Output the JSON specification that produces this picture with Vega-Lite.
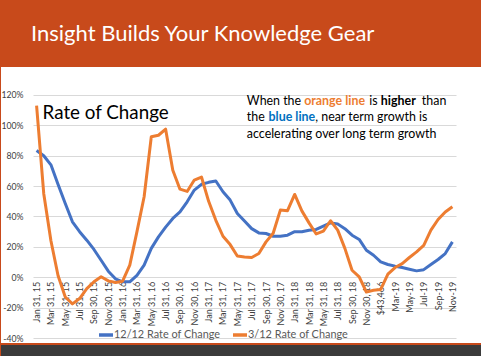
{
  "$schema": "https://vega.github.io/schema/vega-lite/v6.json",
  "background": "#c84a1b",
  "padding": {"left": 0, "right": 0, "top": 22, "bottom": 0},
  "spacing": 2,
  "title": {"text": "Insight Builds Your Knowledge Gear", "anchor": "start", "frame": "group", "dx": 30, "color": "white", "font": "Lato", "fontSize": 22, "fontWeight": "normal", "offset": 21.5},
  "config": {"view": {"stroke": null}},
  "vconcat": [
    {
      "width": 481,
      "height": 276,
      "view": {"fill": "white", "stroke": null},
      "resolve": {"axis": {"x": "independent", "y": "independent"}},
      "layer": [
        {
          "data": {"values": [
            {"month": "Jan 31, 15", "r12": 83.4, "r3": 113},
            {"month": "Feb 28, 15", "r12": 80, "r3": 55},
            {"month": "Mar 31, 15", "r12": 74, "r3": 24},
            {"month": "Apr 30, 15", "r12": 61, "r3": 1},
            {"month": "May 31, 15", "r12": 48.6, "r3": -13},
            {"month": "Jun 30, 15", "r12": 36.5, "r3": -17.5},
            {"month": "Jul 31, 15", "r12": 30, "r3": -14},
            {"month": "Aug 31, 15", "r12": 24.4, "r3": -7.5},
            {"month": "Sep 30, 15", "r12": 18.3, "r3": -3},
            {"month": "Oct 31, 15", "r12": 11.2, "r3": 0.3},
            {"month": "Nov 30, 15", "r12": 4, "r3": -2.4},
            {"month": "Dec 31, 15", "r12": -1, "r3": -3.5},
            {"month": "Jan 31, 16", "r12": -3, "r3": -2.6},
            {"month": "Feb 29, 16", "r12": -3, "r3": 8},
            {"month": "Mar 31, 16", "r12": 1.3, "r3": 30},
            {"month": "Apr 30, 16", "r12": 8, "r3": 53},
            {"month": "May 31, 16", "r12": 19, "r3": 92.5},
            {"month": "Jun 30, 16", "r12": 26.6, "r3": 93.5},
            {"month": "Jul 31, 16", "r12": 33, "r3": 97.5},
            {"month": "Aug 31, 16", "r12": 38.7, "r3": 70.5},
            {"month": "Sep 30, 16", "r12": 43, "r3": 58},
            {"month": "Oct 31, 16", "r12": 49.7, "r3": 56.5},
            {"month": "Nov 30, 16", "r12": 57.4, "r3": 64},
            {"month": "Dec 31, 16", "r12": 61.2, "r3": 66},
            {"month": "Jan 31, 17", "r12": 62.5, "r3": 50},
            {"month": "Feb 28, 17", "r12": 63.4, "r3": 37.5},
            {"month": "Mar 31, 17", "r12": 56.3, "r3": 27},
            {"month": "Apr 30, 17", "r12": 50.8, "r3": 21.5},
            {"month": "May 31, 17", "r12": 42, "r3": 14},
            {"month": "Jun 30, 17", "r12": 37, "r3": 13.4},
            {"month": "Jul 31, 17", "r12": 32, "r3": 13},
            {"month": "Aug 31, 17", "r12": 29.2, "r3": 15.6},
            {"month": "Sep 30, 17", "r12": 28.8, "r3": 23.3},
            {"month": "Oct 31, 17", "r12": 27, "r3": 29},
            {"month": "Nov 30, 17", "r12": 27, "r3": 44.2},
            {"month": "Dec 31, 17", "r12": 27.7, "r3": 43.8},
            {"month": "Jan 31, 18", "r12": 30, "r3": 54.5},
            {"month": "Feb 28, 18", "r12": 30, "r3": 43.7},
            {"month": "Mar 31, 18", "r12": 31, "r3": 35.8},
            {"month": "Apr 30, 18", "r12": 31.5, "r3": 28.5},
            {"month": "May 31, 18", "r12": 33.7, "r3": 30.4},
            {"month": "Jun 30, 18", "r12": 35.8, "r3": 37.2},
            {"month": "Jul 31, 18", "r12": 35, "r3": 31},
            {"month": "Aug 31, 18", "r12": 32, "r3": 19},
            {"month": "Sep 30, 18", "r12": 27.7, "r3": 4.6},
            {"month": "Oct 31, 18", "r12": 24.9, "r3": 0.2},
            {"month": "Nov 30, 18", "r12": 17.8, "r3": -9.7},
            {"month": "Dec 31, 18", "r12": 14.5, "r3": -8.6},
            {"month": "$43,466", "r12": 10.1, "r3": -8},
            {"month": "Feb-19", "r12": 8.4, "r3": 2},
            {"month": "Mar-19", "r12": 7.3, "r3": 6.4},
            {"month": "Apr-19", "r12": 6.4, "r3": 9},
            {"month": "May-19", "r12": 5.3, "r3": 13},
            {"month": "Jun-19", "r12": 4.2, "r3": 16.7},
            {"month": "Jul-19", "r12": 5, "r3": 21},
            {"month": "Aug-19", "r12": 8.4, "r3": 31},
            {"month": "Sep-19", "r12": 11.7, "r3": 38},
            {"month": "Oct-19", "r12": 15.6, "r3": 43},
            {"month": "Nov-19", "r12": 23.3, "r3": 46.4}
          ]},
          "transform": [{"fold": ["r12", "r3"], "as": ["series", "value"]}],
          "mark": {"type": "line", "strokeWidth": 3, "strokeJoin": "round"},
          "encoding": {
            "x": {
              "field": "month", "type": "ordinal", "sort": null,
              "scale": {"type": "point", "range": [32, 455],
                "domain": ["Jan 31, 15","Feb 28, 15","Mar 31, 15","Apr 30, 15","May 31, 15","Jun 30, 15","Jul 31, 15","Aug 31, 15","Sep 30, 15","Oct 31, 15","Nov 30, 15","Dec 31, 15","Jan 31, 16","Feb 29, 16","Mar 31, 16","Apr 30, 16","May 31, 16","Jun 30, 16","Jul 31, 16","Aug 31, 16","Sep 30, 16","Oct 31, 16","Nov 30, 16","Dec 31, 16","Jan 31, 17","Feb 28, 17","Mar 31, 17","Apr 30, 17","May 31, 17","Jun 30, 17","Jul 31, 17","Aug 31, 17","Sep 30, 17","Oct 31, 17","Nov 30, 17","Dec 31, 17","Jan 31, 18","Feb 28, 18","Mar 31, 18","Apr 30, 18","May 31, 18","Jun 30, 18","Jul 31, 18","Aug 31, 18","Sep 30, 18","Oct 31, 18","Nov 30, 18","Dec 31, 18","$43,466","Feb-19","Mar-19","Apr-19","May-19","Jun-19","Jul-19","Aug-19","Sep-19","Oct-19","Nov-19"]},
              "axis": {
                "title": null,
                "values": ["Jan 31, 15","Mar 31, 15","May 31, 15","Jul 31, 15","Sep 30, 15","Nov 30, 15","Jan 31, 16","Mar 31, 16","May 31, 16","Jul 31, 16","Sep 30, 16","Nov 30, 16","Jan 31, 17","Mar 31, 17","May 31, 17","Jul 31, 17","Sep 30, 17","Nov 30, 17","Jan 31, 18","Mar 31, 18","May 31, 18","Jul 31, 18","Sep 30, 18","Nov 30, 18","$43,466","Mar-19","May-19","Jul-19","Sep-19","Nov-19"],
                "labelAngle": -90, "labelFont": "Lato", "labelFontSize": 9, "labelColor": "#404040",
                "ticks": false, "domain": false, "grid": false, "labelPadding": 4,
                "offset": -65.7, "labelOverlap": false
              }
            },
            "y": {
              "field": "value", "type": "quantitative",
              "scale": {"domain": [-43.29, 138.43], "nice": false, "zero": false},
              "axis": {
                "title": null, "values": [-40, -20, 0, 20, 40, 60, 80, 100, 120],
                "labelExpr": "datum.value + '%'", "labelOverlap": false,
                "labelFont": "Lato", "labelFontSize": 8.7, "labelColor": "#404040",
                "ticks": false, "domain": false, "grid": true, "gridColor": "#d9d9d9",
                "offset": -24, "labelPadding": 2
              }
            },
            "color": {
              "field": "series", "type": "nominal",
              "scale": {"domain": ["r12", "r3"], "range": ["#4472C4", "#ED7D31"]},
              "legend": {
                "title": null, "orient": "none", "legendX": 96, "legendY": 259,
                "direction": "horizontal", "gridAlign": "none", "symbolType": "stroke", "symbolStrokeWidth": 3.5,
                "symbolSize": 196, "labelFont": "Lato", "labelFontSize": 10.9,
                "labelColor": "#595959", "labelOffset": -1, "columnPadding": 5,
                "labelExpr": "datum.label == 'r12' ? '12/12 Rate of Change' : '3/12 Rate of Change'"
              }
            }
          }
        },
        {
          "data": {"values": [{"t": "Rate of Change"}]},
          "mark": {"type": "text", "align": "left", "baseline": "alphabetic", "dx": 6, "font": "Lato", "fontSize": 18.8, "color": "black"},
          "encoding": {"x": {"datum": "Jan 31, 15", "type": "ordinal", "axis": null}, "y": {"datum": 104, "type": "quantitative", "axis": null}, "text": {"field": "t"}}
        },
        {
          "data": {"values": [{"t": "When the"}]},
          "mark": {"type": "text", "align": "left", "baseline": "alphabetic", "dx": -4.8, "font": "Lato", "fontSize": 12.4, "color": "black"},
          "encoding": {"x": {"datum": "Jul 31, 17", "type": "ordinal", "axis": null}, "y": {"datum": 113.4, "type": "quantitative", "axis": null}, "text": {"field": "t"}}
        },
        {
          "data": {"values": [{"t": "orange line"}]},
          "mark": {"type": "text", "align": "left", "baseline": "alphabetic", "dx": 52.5, "font": "Lato", "fontSize": 12.4, "fontWeight": "bold", "color": "#ED7D31"},
          "encoding": {"x": {"datum": "Jul 31, 17", "type": "ordinal", "axis": null}, "y": {"datum": 113.4, "type": "quantitative", "axis": null}, "text": {"field": "t"}}
        },
        {
          "data": {"values": [{"t": "is"}]},
          "mark": {"type": "text", "align": "left", "baseline": "alphabetic", "dx": 117.6, "font": "Lato", "fontSize": 12.4, "color": "black"},
          "encoding": {"x": {"datum": "Jul 31, 17", "type": "ordinal", "axis": null}, "y": {"datum": 113.4, "type": "quantitative", "axis": null}, "text": {"field": "t"}}
        },
        {
          "data": {"values": [{"t": "higher"}]},
          "mark": {"type": "text", "align": "left", "baseline": "alphabetic", "dx": 129.2, "font": "Lato", "fontSize": 12.4, "fontWeight": "bold", "color": "black"},
          "encoding": {"x": {"datum": "Jul 31, 17", "type": "ordinal", "axis": null}, "y": {"datum": 113.4, "type": "quantitative", "axis": null}, "text": {"field": "t"}}
        },
        {
          "data": {"values": [{"t": "than"}]},
          "mark": {"type": "text", "align": "left", "baseline": "alphabetic", "dx": 170.2, "font": "Lato", "fontSize": 12.4, "color": "black"},
          "encoding": {"x": {"datum": "Jul 31, 17", "type": "ordinal", "axis": null}, "y": {"datum": 113.4, "type": "quantitative", "axis": null}, "text": {"field": "t"}}
        },
        {
          "data": {"values": [{"t": "the"}]},
          "mark": {"type": "text", "align": "left", "baseline": "alphabetic", "dx": -4.8, "font": "Lato", "fontSize": 12.4, "color": "black"},
          "encoding": {"x": {"datum": "Jul 31, 17", "type": "ordinal", "axis": null}, "y": {"datum": 102.9, "type": "quantitative", "axis": null}, "text": {"field": "t"}}
        },
        {
          "data": {"values": [{"t": "blue line"}]},
          "mark": {"type": "text", "align": "left", "baseline": "alphabetic", "dx": 16.9, "font": "Lato", "fontSize": 12.4, "fontWeight": "bold", "color": "#0070C0"},
          "encoding": {"x": {"datum": "Jul 31, 17", "type": "ordinal", "axis": null}, "y": {"datum": 102.9, "type": "quantitative", "axis": null}, "text": {"field": "t"}}
        },
        {
          "data": {"values": [{"t": ", near term growth is"}]},
          "mark": {"type": "text", "align": "left", "baseline": "alphabetic", "dx": 63.6, "font": "Lato", "fontSize": 12.4, "color": "black"},
          "encoding": {"x": {"datum": "Jul 31, 17", "type": "ordinal", "axis": null}, "y": {"datum": 102.9, "type": "quantitative", "axis": null}, "text": {"field": "t"}}
        },
        {
          "data": {"values": [{"t": "accelerating over long term growth"}]},
          "mark": {"type": "text", "align": "left", "baseline": "alphabetic", "dx": -4.8, "font": "Lato", "fontSize": 12.4, "color": "black"},
          "encoding": {"x": {"datum": "Jul 31, 17", "type": "ordinal", "axis": null}, "y": {"datum": 91.9, "type": "quantitative", "axis": null}, "text": {"field": "t"}}
        }
      ]
    },
    {
      "width": 481,
      "height": 11,
      "view": {"fill": "#3b3b3b", "stroke": null},
      "data": {"values": []},
      "mark": {"type": "point", "opacity": 0},
      "encoding": {}
    }
  ]
}
